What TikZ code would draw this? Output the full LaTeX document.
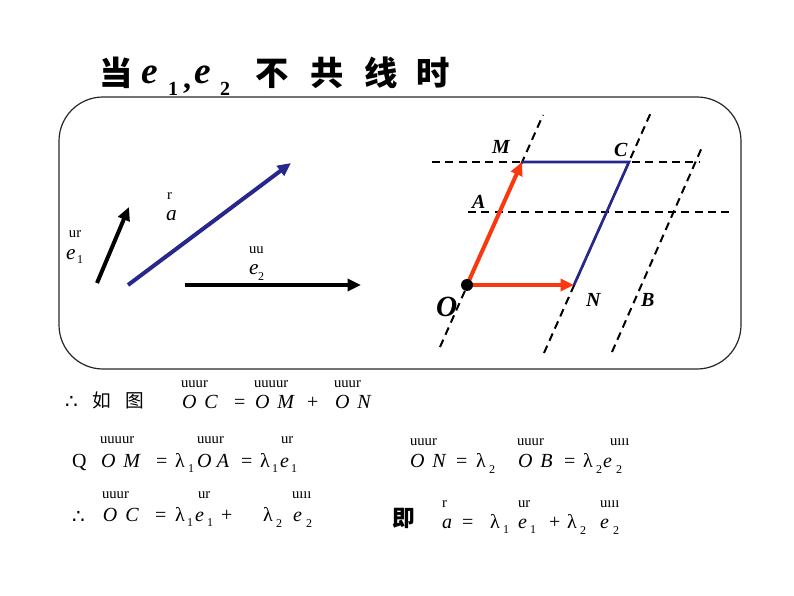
\documentclass[tikz,border=0pt]{standalone}
\usepackage{fontspec}
\setmainfont{Liberation Serif}
\newfontfamily\cjk{Noto Sans CJK SC}
\newfontfamily\dejavu{DejaVu Sans}
\usetikzlibrary{arrows.meta}
\definecolor{redv}{RGB}{250,55,15}
\definecolor{bluev}{RGB}{40,40,140}
\begin{document}
\begin{tikzpicture}[x=0.75pt,y=-0.75pt,
  txt/.style={anchor=base west,inner sep=0pt,outer sep=0pt},
  acc/.style={txt,font=\fontsize{11}{11}\selectfont},
  mth/.style={txt,font=\fontsize{15}{15}\selectfont},
  sub/.style={txt,font=\fontsize{9}{9}\selectfont},
  lbl/.style={txt,font=\fontsize{15}{15}\selectfont\bfseries\itshape},
  dsh/.style={line width=1.5pt,dash pattern=on 6pt off 4pt},
  thickarrow/.style={line width=3pt,-{Triangle[length=10pt,width=9pt]}},
  redarrow/.style={redv,line width=3pt,-{Triangle[length=10pt,width=9pt]}},
  blueline/.style={bluev,line width=2pt},
  title/.style={txt,font=\fontsize{25}{25}\selectfont\cjk\bfseries},
  titlem/.style={txt,font=\fontsize{28}{28}\selectfont\bfseries\itshape},
  titles/.style={txt,font=\fontsize{15}{15}\selectfont\bfseries}]
\useasboundingbox (0,0) rectangle (794,596);
% title
\node[title] (t1) at (99,85) {当};
\node[titlem] (t2) at (141,84) {e};
\node[titles] (t3) at (168,95) {1};
\node[titles,font=\fontsize{24}{24}\selectfont\bfseries] (t4) at (183,88) {,};
\node[titlem] (t5) at (194,84) {e};
\node[titles] (t6) at (220,95) {2};
\node[title] (t7) at (255,85) {不};
\node[title] (t8) at (310,85) {共};
\node[title] (t9) at (364,85) {线};
\node[title] (t10) at (416,85) {时};
% frame
\draw[line width=0.9pt,black!85] (59,97) [rounded corners=33pt] rectangle (741,369);
% left vectors
\coordinate (e1s) at (97,283);
\coordinate (e1e) at (129,207);
\coordinate (as) at (128,285);
\coordinate (ae) at (291,163);
\coordinate (e2s) at (185,285);
\coordinate (e2e) at (361,285);
\draw[thickarrow] (e1s) -- (e1e);
\draw[bluev,line width=3pt,-{Triangle[length=10pt,width=9pt]}] (as) -- (ae);
\draw[thickarrow] (e2s) -- (e2e);
\node[acc] (le1a) at (69,237) {ur};
\node[mth,font=\fontsize{16}{16}\selectfont\itshape] (le1) at (66,259) {e};
\node[sub] (le1s) at (77,263) {1};
\node[acc] (laa) at (167,199) {r};
\node[mth,font=\fontsize{16}{16}\selectfont\itshape] (la) at (166,220) {a};
\node[acc] (le2a) at (249,253) {uu};
\node[mth,font=\fontsize{16}{16}\selectfont\itshape] (le2) at (249,274) {e};
\node[sub] (le2s) at (258,280) {2};
% right figure
\coordinate (O) at (467,285);
\coordinate (M) at (522,162);
\coordinate (N) at (574,285);
\coordinate (C) at (629,162);
\coordinate (d1a) at (440,347);
\coordinate (d1b) at (543,115);
\coordinate (d2a) at (544,353);
\coordinate (d2b) at (652,110);
\coordinate (d3a) at (612,352);
\coordinate (d3b) at (703,145);
\coordinate (h1a) at (432,162);
\coordinate (h1b) at (700,162);
\coordinate (h2a) at (468,212);
\coordinate (h2b) at (732,212);
\draw[dsh] (d1a) -- (d1b);
\draw[dsh] (d2a) -- (d2b);
\draw[dsh] (d3a) -- (d3b);
\draw[dsh] (h1a) -- (h1b);
\draw[dsh] (h2a) -- (h2b);
\draw[blueline] (M) -- (C) -- (N);
\draw[redarrow] (O) -- (M);
\draw[redarrow] (O) -- (N);
\fill (O) circle (4.5pt);
\node[lbl] (lM) at (492,153) {M};
\node[lbl] (lC) at (614,156) {C};
\node[lbl] (lA) at (472,208) {A};
\node[lbl] (lN) at (586,306) {N};
\node[lbl] (lB) at (641,306) {B};
\node[lbl,font=\fontsize{22}{22}\selectfont\bfseries\itshape] (lO) at (436,316) {O};
% row 1
\node[txt,font=\fontsize{15}{15}\selectfont\dejavu] (r1a) at (65,408) {∴};
\node[txt,font=\fontsize{14}{14}\selectfont\cjk] (r1b) at (92,407) {如};
\node[txt,font=\fontsize{14}{14}\selectfont\cjk] (r1c) at (125,407) {图};
\node[acc] (r1d) at (181,387) {uuur};
\node[mth] (r1e) at (182,408) {\itshape O\hspace{6pt}C};
\node[mth] (r1f) at (234,408) {=};
\node[acc] (r1g) at (254,387) {uuuur};
\node[mth] (r1h) at (255,408) {\itshape O\hspace{6pt}M};
\node[mth] (r1i) at (307,408) {+};
\node[acc] (r1j) at (334,387) {uuur};
\node[mth] (r1k) at (335,408) {\itshape O\hspace{6pt}N};
% row 2 left
\node[mth] (r2a) at (72,467) {Q};
\node[acc] (r2b) at (100,443) {uuuur};
\node[mth] (r2c) at (101,467) {\itshape O\hspace{6pt}M};
\node[mth] (r2d) at (156,467) {=};
\node[mth] (r2e) at (175,467) {λ};
\node[sub] (r2f) at (188,472) {1};
\node[acc] (r2g) at (197,443) {uuur};
\node[mth] (r2h) at (197,467) {\itshape O\hspace{4pt}A};
\node[mth] (r2i) at (241,467) {=};
\node[mth] (r2j) at (260,467) {λ};
\node[sub] (r2k) at (272,472) {1};
\node[acc] (r2l) at (281,443) {ur};
\node[mth] (r2m) at (280,467) {\itshape e};
\node[sub] (r2n) at (291,472) {1};
% row 2 right
\node[acc] (r2o) at (410,445) {uuur};
\node[mth] (r2p) at (410,467) {\itshape O\hspace{6pt}N};
\node[mth] (r2q) at (456,467) {=};
\node[mth] (r2r) at (476,467) {λ};
\node[sub] (r2s) at (489,473) {2};
\node[acc] (r2t) at (517,445) {uuur};
\node[mth] (r2u) at (518,467) {\itshape O\hspace{6pt}B};
\node[mth] (r2v) at (564,467) {=};
\node[mth] (r2w) at (583,467) {λ};
\node[sub] (r2x) at (596,473) {2};
\node[acc] (r2y) at (610,445) {uııı};
\node[mth] (r2z) at (603,467) {\itshape e};
\node[sub] (r2za) at (616,473) {2};
% row 3
\node[txt,font=\fontsize{15}{15}\selectfont\dejavu] (r3a) at (72,523) {∴};
\node[acc] (r3b) at (102,498) {uuur};
\node[mth] (r3c) at (103,521) {\itshape O\hspace{6pt}C};
\node[mth] (r3d) at (155,521) {=};
\node[mth] (r3e) at (175,521) {λ};
\node[sub] (r3f) at (187,526) {1};
\node[acc] (r3g) at (198,498) {ur};
\node[mth] (r3h) at (195,521) {\itshape e};
\node[sub] (r3i) at (207,526) {1};
\node[mth] (r3j) at (221,521) {+};
\node[mth] (r3k) at (263,521) {λ};
\node[sub] (r3l) at (276,527) {2};
\node[acc] (r3m) at (292,498) {uııı};
\node[mth] (r3n) at (293,521) {\itshape e};
\node[sub] (r3o) at (306,527) {2};
% row 4
\node[txt,font=\fontsize{17}{17}\selectfont\cjk\bfseries] (r4a) at (392,526) {即};
\node[acc] (r4b) at (442,507) {r};
\node[mth] (r4c) at (442,528) {\itshape a};
\node[mth] (r4d) at (462,528) {=};
\node[mth] (r4e) at (490,528) {λ};
\node[sub] (r4f) at (503,533) {1};
\node[acc] (r4g) at (518,507) {ur};
\node[mth] (r4h) at (518,528) {\itshape e};
\node[sub] (r4i) at (530,533) {1};
\node[mth] (r4j) at (549,528) {+};
\node[mth] (r4k) at (567,528) {λ};
\node[sub] (r4l) at (580,534) {2};
\node[acc] (r4m) at (600,507) {uııı};
\node[mth] (r4n) at (600,528) {\itshape e};
\node[sub] (r4o) at (613,534) {2};
\end{tikzpicture}
\end{document}
